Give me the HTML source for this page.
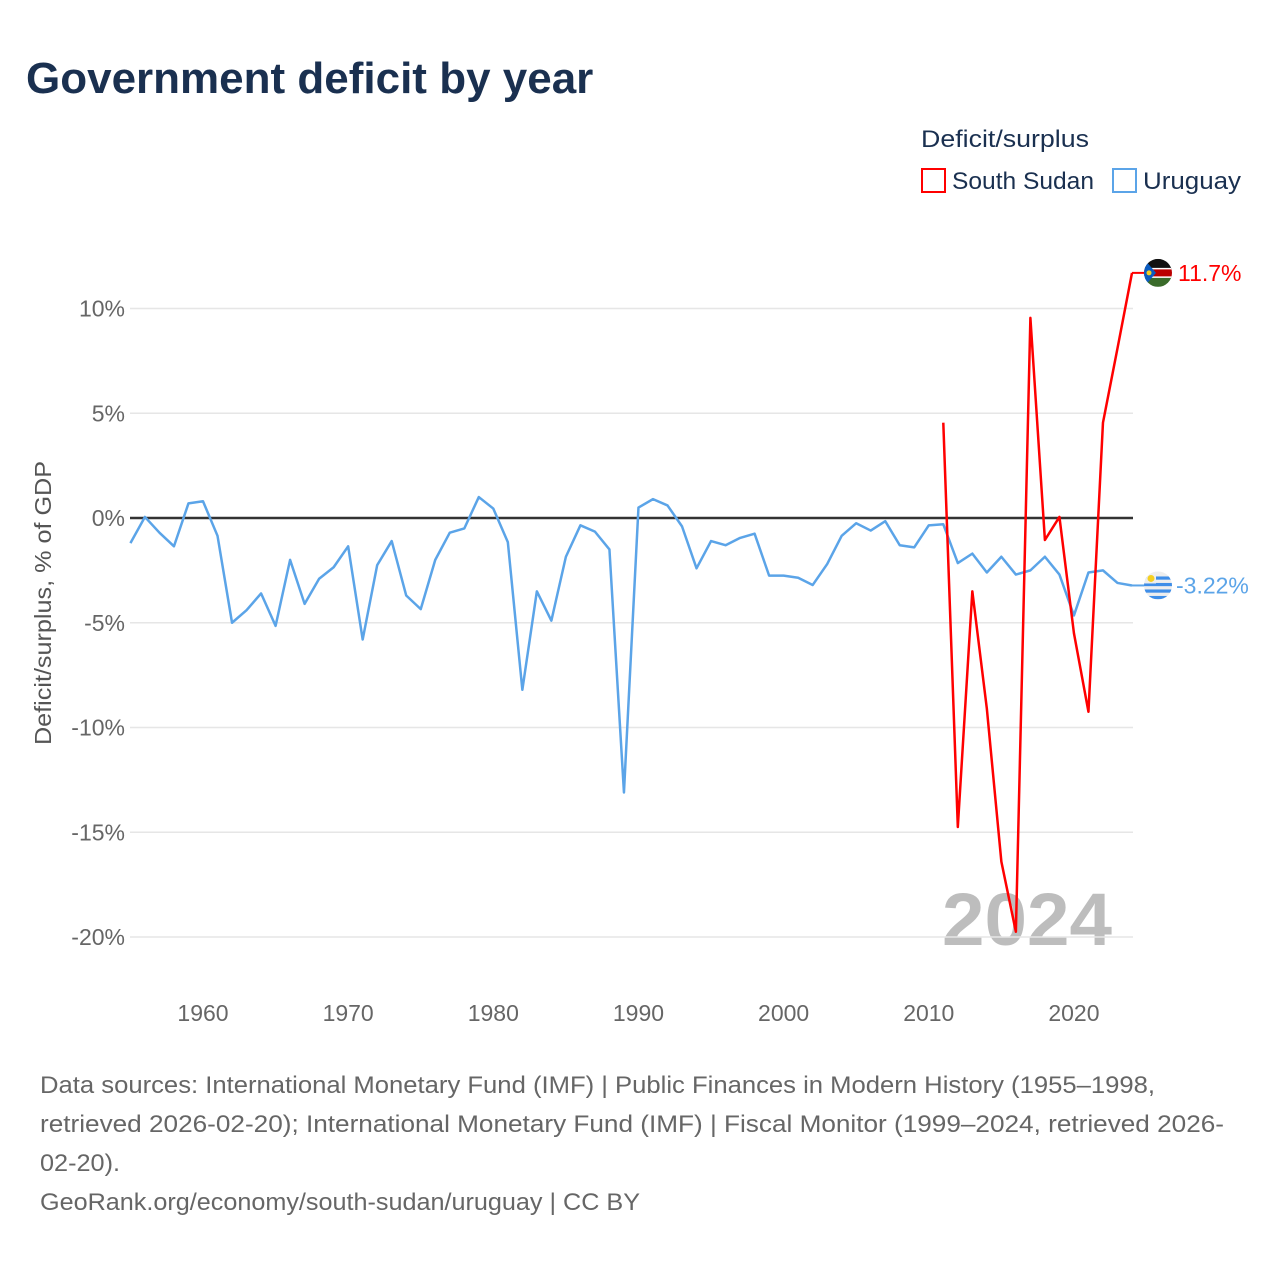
<!DOCTYPE html>
<html><head><meta charset="utf-8"><style>
body{margin:0;background:#fff;font-family:"Liberation Sans",sans-serif;}
#wrap{position:relative;width:1280px;height:1280px;overflow:hidden;}
</style></head><body><div id="wrap">
<svg id="svg" width="1280" height="1280" xmlns="http://www.w3.org/2000/svg">
<text x="26" y="93" font-size="44" font-weight="bold" fill="#1a3050">Government deficit by year</text>
<text x="921" y="147" font-size="24" fill="#1a3050" textLength="168" lengthAdjust="spacingAndGlyphs">Deficit/surplus</text>
<g><rect x="922" y="169" width="23" height="23" fill="none" stroke="#f00" stroke-width="2"/><text x="952" y="189" font-size="24" fill="#1a3050" textLength="142" lengthAdjust="spacingAndGlyphs">South Sudan</text></g>
<g><rect x="1113" y="169" width="23" height="23" fill="none" stroke="#5ba4e8" stroke-width="2"/><text x="1143" y="189" font-size="24" fill="#1a3050" textLength="98" lengthAdjust="spacingAndGlyphs">Uruguay</text></g>
<text x="1112" y="945" font-size="74" font-weight="bold" fill="#bdbdbd" text-anchor="end" textLength="170" lengthAdjust="spacingAndGlyphs">2024</text>
<g id="grid"></g><g id="yt"></g><g id="xt"></g><g id="lines"></g>
<text transform="translate(51,603) rotate(-90)" font-size="23" fill="#555" text-anchor="middle" textLength="284" lengthAdjust="spacingAndGlyphs">Deficit/surplus, % of GDP</text>
<g font-size="24" fill="#666">
<text x="40" y="1093" textLength="1115" lengthAdjust="spacingAndGlyphs">Data sources: International Monetary Fund (IMF) | Public Finances in Modern History (1955–1998,</text>
<text x="40" y="1132" textLength="1184" lengthAdjust="spacingAndGlyphs">retrieved 2026-02-20); International Monetary Fund (IMF) | Fiscal Monitor (1999–2024, retrieved 2026-</text>
<text x="40" y="1171" textLength="80" lengthAdjust="spacingAndGlyphs">02-20).</text>
<text x="40" y="1210" textLength="600" lengthAdjust="spacingAndGlyphs">GeoRank.org/economy/south-sudan/uruguay | CC BY</text>
</g>
</svg></div>
<script>
const uyYears=[1955,1956,1957,1958,1959,1960,1961,1962,1963,1964,1965,1966,1967,1968,1969,1970,1971,1972,1973,1974,1975,1976,1977,1978,1979,1980,1981,1982,1983,1984,1985,1986,1987,1988,1989,1990,1991,1992,1993,1994,1995,1996,1997,1998,1999,2000,2001,2002,2003,2004,2005,2006,2007,2008,2009,2010,2011,2012,2013,2014,2015,2016,2017,2018,2019,2020,2021,2022,2023,2024];
const uyValues=[-1.2,0.05,-0.7,-1.35,0.7,0.8,-0.85,-5.0,-4.4,-3.6,-5.15,-2.0,-4.1,-2.9,-2.35,-1.35,-5.8,-2.25,-1.1,-3.7,-4.35,-2.0,-0.7,-0.5,1.0,0.45,-1.15,-8.2,-3.5,-4.9,-1.85,-0.35,-0.65,-1.5,-13.1,0.5,0.9,0.6,-0.4,-2.4,-1.1,-1.3,-0.95,-0.75,-2.75,-2.75,-2.85,-3.2,-2.2,-0.85,-0.25,-0.6,-0.15,-1.3,-1.4,-0.35,-0.3,-2.15,-1.7,-2.6,-1.85,-2.7,-2.5,-1.85,-2.7,-4.65,-2.6,-2.5,-3.1,-3.22];
const ssYears=[2011,2012,2013,2014,2015,2016,2017,2018,2019,2020,2021,2022,2023,2024];
const ssValues=[4.55,-14.75,-3.5,-9.1,-16.4,-19.75,9.55,-1.05,0.05,-5.5,-9.25,4.55,8.1,11.7];
const yTicks=[10,5,0,-5,-10,-15,-20];
const yTickLabels=["10%","5%","0%","-5%","-10%","-15%","-20%"];
const xTicks=[1960,1970,1980,1990,2000,2010,2020];
const NS="http://www.w3.org/2000/svg";
const X=y=>203+(y-1960)*(1132-203)/64;
const Y=v=>518-v*20.95;
function mk(t,a,p){const e=document.createElementNS(NS,t);for(const k in a)e.setAttribute(k,a[k]);p.appendChild(e);return e;}
const grid=document.getElementById('grid'),yt=document.getElementById('yt'),xt=document.getElementById('xt'),lines=document.getElementById('lines');
yTicks.forEach((v,i)=>{
 if(v!==0){const l=mk('line',{x1:130,x2:1133,y1:Y(v),y2:Y(v),stroke:'#e6e6e6','stroke-width':1.5},grid);
 
 }
 const t=mk('text',{x:125,y:Y(v)+8,'font-size':23,fill:'#666','text-anchor':'end'},yt);t.textContent=yTickLabels[i];
 
 
});
xTicks.forEach(y=>{const t=mk('text',{x:X(y),y:1021,'font-size':23,fill:'#666','text-anchor':'middle'},xt);t.textContent=y;
 
 });
const zl=mk('line',{x1:130,x2:1133,y1:Y(0),y2:Y(0),stroke:'#333','stroke-width':2.5},grid);


function series(ys,vs,col,name){
 const p=mk('polyline',{points:ys.map((y,i)=>X(y)+','+Y(vs[i])).join(' '),fill:'none',stroke:col,'stroke-width':2.5,'stroke-linejoin':'round'},lines);
 
 
}
series(uyYears,uyValues,'#5ba4e8','uruguay');
series(ssYears,ssValues,'#f00','south-sudan');
const ssl=ssValues[ssValues.length-1],uyl=uyValues[uyValues.length-1];
const ex=X(2024);
mk('line',{x1:ex,x2:1146,y1:Y(ssl),y2:Y(ssl),stroke:'#f00','stroke-width':2},lines);
mk('line',{x1:ex,x2:1146,y1:Y(uyl),y2:Y(uyl),stroke:'#5ba4e8','stroke-width':2},lines);
const cx=1158;
const defs=mk('defs',{},lines);
const c1=mk('clipPath',{id:'c1'},defs);mk('circle',{cx:cx,cy:Y(ssl),r:14},c1);
const c2=mk('clipPath',{id:'c2'},defs);mk('circle',{cx:cx,cy:Y(uyl),r:14},c2);
const f1=mk('g',{'clip-path':'url(#c1)'},lines);


let cy=Y(ssl);
mk('rect',{x:cx-14,y:cy-14,width:28,height:10,fill:'#111'},f1);
mk('rect',{x:cx-14,y:cy-4,width:28,height:8,fill:'#b00'},f1);
mk('rect',{x:cx-14,y:cy+4,width:28,height:10,fill:'#3a6b2a'},f1);
mk('rect',{x:cx-14,y:cy-5,width:28,height:1.5,fill:'#fff'},f1);
mk('rect',{x:cx-14,y:cy+3.5,width:28,height:1.5,fill:'#fff'},f1);
mk('polygon',{points:`${cx-14},${cy-14} ${cx-2},${cy} ${cx-14},${cy+14}`,fill:'#0b5cc0'},f1);
mk('circle',{cx:cx-9,cy:cy,r:2.5,fill:'#f5d020'},f1);
const f2=mk('g',{'clip-path':'url(#c2)'},lines);


cy=Y(uyl);
mk('rect',{x:cx-14,y:cy-14,width:28,height:28,fill:'#eee'},f2);
for(let i=0;i<4;i++)mk('rect',{x:cx-14,y:cy-9+i*6.5,width:28,height:3.2,fill:'#3f8ee8'},f2);
mk('rect',{x:cx-14,y:cy-14,width:12,height:12,fill:'#eee'},f2);
mk('circle',{cx:cx-7,cy:cy-7,r:3.5,fill:'#f5d020'},f2);
const t1=mk('text',{x:1178,y:Y(ssl)+8,'font-size':23,fill:'#f00'},lines);t1.textContent=ssl+'%';


const t2=mk('text',{x:1176,y:Y(uyl)+8,'font-size':23,fill:'#5ba4e8'},lines);t2.textContent=uyl+'%';


</script></body></html>
